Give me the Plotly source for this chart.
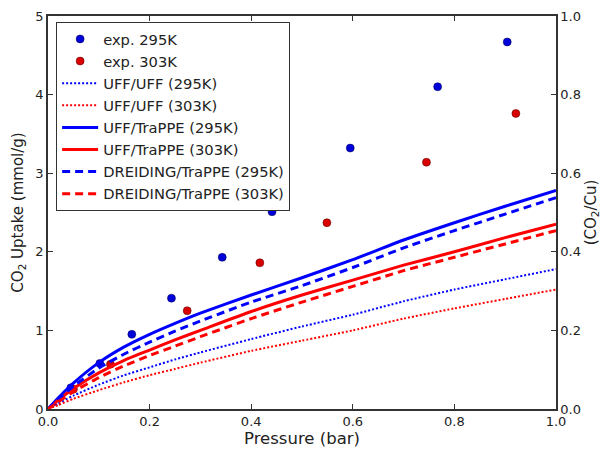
import plotly.graph_objects as go

# ---- data ----
pressure = [0, 0.02, 0.05, 0.1, 0.15, 0.2, 0.25, 0.3, 0.4, 0.5, 0.6, 0.7, 0.8, 0.9, 1.0]
uff_uff_295 = [0, 0.07, 0.17, 0.31, 0.43, 0.53, 0.63, 0.72, 0.89, 1.05, 1.20, 1.37, 1.52, 1.65, 1.78]
uff_uff_303 = [0, 0.05, 0.13, 0.24, 0.34, 0.43, 0.51, 0.59, 0.74, 0.87, 1.00, 1.15, 1.28, 1.40, 1.52]
uff_trappe_295 = [0, 0.14, 0.33, 0.59, 0.79, 0.95, 1.09, 1.22, 1.45, 1.67, 1.90, 2.15, 2.37, 2.58, 2.78]
uff_trappe_303 = [0, 0.11, 0.26, 0.46, 0.62, 0.75, 0.88, 1.00, 1.24, 1.45, 1.64, 1.83, 2.00, 2.18, 2.35]
dreiding_295 = [0, 0.12, 0.29, 0.52, 0.70, 0.85, 0.99, 1.12, 1.36, 1.57, 1.80, 2.05, 2.27, 2.48, 2.69]
dreiding_303 = [0, 0.09, 0.22, 0.40, 0.55, 0.68, 0.80, 0.92, 1.15, 1.36, 1.56, 1.76, 1.93, 2.10, 2.27]

exp295_p = [0.045, 0.102, 0.165, 0.243, 0.343, 0.441, 0.595, 0.767, 0.904]
exp295_q = [0.27, 0.58, 0.95, 1.41, 1.93, 2.51, 3.32, 4.10, 4.67]
exp303_p = [0.05, 0.123, 0.274, 0.417, 0.549, 0.745, 0.921]
exp303_q = [0.25, 0.57, 1.25, 1.86, 2.37, 3.14, 3.76]

x_ticks = [0.0, 0.2, 0.4, 0.6, 0.8, 1.0]
y_ticks = [0, 1, 2, 3, 4, 5]
y2_ticks = [0.0, 0.2, 0.4, 0.6, 0.8, 1.0]

BLUE = "#0000ff"
RED = "#ff0000"
FONT = "DejaVu Sans"

fig = go.Figure()

fig.add_trace(go.Scatter(x=exp295_p, y=exp295_q, mode="markers", name="exp. 295K",
                         marker=dict(color="#0000d8", size=8, line=dict(color="#000050", width=0.5))))
fig.add_trace(go.Scatter(x=exp303_p, y=exp303_q, mode="markers", name="exp. 303K",
                         marker=dict(color="#d80000", size=8, line=dict(color="#500000", width=0.5))))
fig.add_trace(go.Scatter(x=pressure, y=uff_uff_295, mode="lines", name="UFF/UFF (295K)",
                         line=dict(color=BLUE, width=2, dash="2px,2px", shape="spline", smoothing=0.5)))
fig.add_trace(go.Scatter(x=pressure, y=uff_uff_303, mode="lines", name="UFF/UFF (303K)",
                         line=dict(color=RED, width=2, dash="2px,2px", shape="spline", smoothing=0.5)))
fig.add_trace(go.Scatter(x=pressure, y=uff_trappe_295, mode="lines", name="UFF/TraPPE (295K)",
                         line=dict(color=BLUE, width=3, shape="spline", smoothing=0.5)))
fig.add_trace(go.Scatter(x=pressure, y=uff_trappe_303, mode="lines", name="UFF/TraPPE (303K)",
                         line=dict(color=RED, width=3, shape="spline", smoothing=0.5)))
fig.add_trace(go.Scatter(x=pressure, y=dreiding_295, mode="lines", name="DREIDING/TraPPE (295K)",
                         line=dict(color=BLUE, width=3, dash="8px,5px", shape="spline", smoothing=0.5)))
fig.add_trace(go.Scatter(x=pressure, y=dreiding_303, mode="lines", name="DREIDING/TraPPE (303K)",
                         line=dict(color=RED, width=3, dash="8px,5px", shape="spline", smoothing=0.5)))
# secondary axis (CO2/Cu) carrier trace
fig.add_trace(go.Scatter(x=[0, 1], y=[0, 1], yaxis="y2", mode="lines", showlegend=False,
                         hoverinfo="skip", line=dict(width=0, color="rgba(0,0,0,0)")))

axis_common = dict(showline=True, linecolor="#333333", linewidth=1.5, ticks="inside",
                   ticklen=5, tickcolor="#333333", showgrid=False, zeroline=False,
                   automargin=False,
                   tickfont=dict(family=FONT, size=13, color="#222222"))

fig.update_layout(
    width=604, height=449,
    margin=dict(l=48, r=48, t=16, b=40),
    paper_bgcolor="white", plot_bgcolor="white",
    font=dict(family=FONT, size=13, color="#222222"),
    xaxis=dict(range=[0, 1], tickvals=x_ticks, ticktext=[f"{v:.1f}" for v in x_ticks],
               mirror="ticks",
               title=dict(text="Pressure (bar)", font=dict(family=FONT, size=16.5), standoff=0),
               **axis_common),
    yaxis=dict(range=[0, 5], tickvals=y_ticks,
               title=dict(text="CO<sub>2</sub> Uptake (mmol/g)", font=dict(family=FONT, size=15), standoff=8),
               **axis_common),
    yaxis2=dict(range=[0, 1], tickvals=y2_ticks, ticktext=[f"{v:.1f}" for v in y2_ticks],
                overlaying="y", side="right",
                title=dict(text="(CO<sub>2</sub>/Cu)", font=dict(family=FONT, size=15), standoff=5),
                **axis_common),
    legend=dict(x=0.016, y=0.985, xanchor="left", yanchor="top",
                bgcolor="white", bordercolor="#333333", borderwidth=1,
                font=dict(family=FONT, size=14.7, color="#222222"),
                itemwidth=36, tracegroupgap=0),
    showlegend=True,
)

fig.write_html("out.html", config={"displayModeBar": False},
               post_script="document.body.style.margin='0';document.body.style.overflow='hidden';")
